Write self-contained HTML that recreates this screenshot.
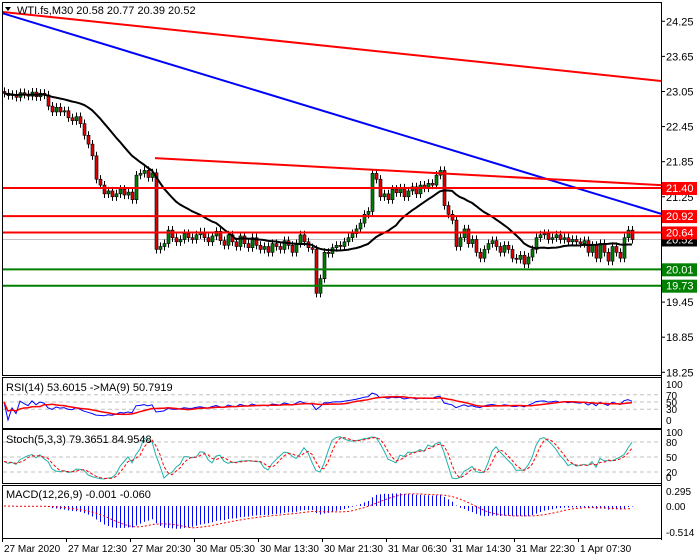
<!DOCTYPE html>
<html><head><meta charset="utf-8">
<style>
html,body{margin:0;padding:0;background:#fff;}
svg{display:block;font-family:"Liberation Sans",sans-serif;}
</style></head>
<body>
<svg id="chart" width="700" height="560" viewBox="0 0 700 560" xmlns="http://www.w3.org/2000/svg"></svg>
<script>
// ---- data ----
const closes = [
23.02,22.98,23.00,22.95,23.03,23.00,22.97,23.04,22.96,23.02,22.99,22.80,22.70,22.78,22.70,22.72,
22.60,22.55,22.62,22.50,22.30,22.15,21.95,21.55,21.45,21.30,21.35,21.25,21.30,21.38,21.28,21.33,
21.20,21.62,21.65,21.70,21.58,21.66,20.35,20.40,20.45,20.68,20.55,20.48,20.52,20.62,20.55,20.52,
20.60,20.65,20.55,20.48,20.58,20.66,20.50,20.42,20.60,20.48,20.40,20.58,20.45,20.38,20.55,20.42,
20.35,20.40,20.30,20.45,20.40,20.35,20.50,20.42,20.30,20.45,20.60,20.48,20.38,20.35,19.60,19.85,
20.30,20.28,20.38,20.42,20.40,20.48,20.55,20.62,20.70,20.80,20.95,21.00,21.65,21.55,21.25,21.30,
21.20,21.38,21.32,21.40,21.25,21.35,21.42,21.30,21.45,21.40,21.48,21.45,21.62,21.70,21.10,20.95,
20.85,20.40,20.55,20.70,20.45,20.52,20.30,20.20,20.35,20.45,20.50,20.40,20.30,20.42,20.35,20.20,
20.18,20.25,20.10,20.22,20.35,20.55,20.60,20.62,20.52,20.55,20.60,20.52,20.55,20.48,20.52,20.48,
20.45,20.50,20.30,20.42,20.20,20.45,20.30,20.15,20.40,20.30,20.20,20.55,20.68,20.52
];
const firstOpen = 23.05;
const priceTicks = [24.25,23.65,23.05,22.45,21.85,21.25,20.65,20.05,19.45,18.85,18.25];
const hLevels = [21.40,20.92,20.64];
const supportLevels = [20.01,19.73];
const lastPrice = 20.52;
const trendTop = [24.41,23.23];
const trendBlue = [24.39,20.96];
const trendMid = [21.91,21.45];
const dateLabels = ["27 Mar 2020","27 Mar 12:30","27 Mar 20:30","30 Mar 05:30","30 Mar 13:30","30 Mar 21:30","31 Mar 06:30","31 Mar 14:30","31 Mar 22:30","1 Apr 07:30"];
const dateBars = [0,16,32,48,64,80,96,112,128,144];

// ---- scales ----
const svg = document.getElementById('chart');
const NS = 'http://www.w3.org/2000/svg';
const R = 661;
function xb(i){return 4+4*i;}
function ym(p){return 188+(21.4-p)*58.5;}
function yr(v){return 420-v*0.36;}
function ys(v){return 482-v*0.5;}
function yd(v){return Math.max(486,Math.min(537,506-v*50.7));}
function mk(tag,attrs,parent){const e=document.createElementNS(NS,tag);for(const k in attrs)e.setAttribute(k,attrs[k]);(parent||svg).appendChild(e);return e;}
function txt(s,x,y,attrs,parent){const e=mk('text',Object.assign({x:x,y:y,'font-size':11,fill:'#000'},attrs||{}),parent);e.textContent=s;return e;}

// panels
const panels=[[2,2,375,'main-panel'],[2,377,428,'rsi-panel'],[2,429,483,'stoch-panel'],[2,485,538,'macd-panel']];
panels.forEach(p=>{
  const r=mk('rect',{x:p[0]+0.5,y:p[1]+0.5,width:R-p[0],height:p[2]-p[1],fill:'#fff',stroke:'#000','stroke-width':1});
  
  
});
const axisLine=mk('line',{x1:R+0.5,y1:2,x2:R+0.5,y2:540,stroke:'#000'});



const defs=mk('defs',{});
const cp=mk('clipPath',{id:'mclip'},defs);
mk('rect',{x:3,y:3,width:R-3,height:372},cp);
const gMain=mk('g',{'clip-path':'url(#mclip)'});



const cur=mk('line',{x1:2,x2:R,y1:ym(lastPrice),y2:ym(lastPrice),stroke:'#c0c0c0'},gMain);



// candles
const opens=closes.map((c,i)=>i===0?firstOpen:closes[i-1]);
closes.forEach((c,i)=>{
  const o=opens[i];const x=xb(i);
  const hi=Math.max(o,c)+0.07, lo=Math.min(o,c)-0.07;
  const w=mk('line',{x1:x+0.5,x2:x+0.5,y1:ym(hi),y2:ym(lo),stroke:'#000'},gMain);
  
  
  const top=ym(Math.max(o,c)), bot=ym(Math.min(o,c));
  const b=mk('rect',{x:x-1,y:top,width:3,height:Math.max(1,bot-top),fill:c>=o?'#008000':'#e00000',stroke:'#000','stroke-width':0.6},gMain);
  
  
});

function sma(arr,n){return arr.map((v,i)=>{const s=arr.slice(Math.max(0,i-n+1),i+1);return s.reduce((a,b)=>a+b,0)/s.length;});}
const ma=sma(closes,21);
const maPath=mk('polyline',{points:ma.map((v,i)=>xb(i)+','+ym(v).toFixed(1)).join(' '),fill:'none',stroke:'#000','stroke-width':2},gMain);



function tline(vals,x1,color,name){
  const l=mk('line',{x1:x1,x2:R,y1:ym(vals[0]),y2:ym(vals[1]),stroke:color,'stroke-width':2},gMain);
  
  
}
tline(trendTop,2,'#ff0000','upper-trendline');
tline(trendBlue,2,'#0000ff','blue-trendline');
tline(trendMid,155,'#ff0000','middle-trendline');
hLevels.forEach(p=>{
  const l=mk('line',{x1:2,x2:R,y1:ym(p),y2:ym(p),stroke:'#ff0000','stroke-width':2},gMain);
  
  
});
supportLevels.forEach(p=>{
  const l=mk('line',{x1:2,x2:R,y1:ym(p),y2:ym(p),stroke:'#008000','stroke-width':2},gMain);
  
  
});

priceTicks.forEach(p=>{
  const y=ym(p);
  const t=mk('line',{x1:R,x2:R+4,y1:y,y2:y,stroke:'#000'});
  
  
  const l=txt(p.toFixed(2),666,y+4);
  
  
});
function box(p,bg,name){
  const y=ym(p);
  const r=mk('rect',{x:662,y:y-6,width:35,height:13,fill:bg});
  
  
  const t=txt(p.toFixed(2),666,y+4,{fill:'#fff'});
  
  
}
box(lastPrice,'#000','current-price');
hLevels.forEach(p=>box(p,'#ff0000','resistance'));
supportLevels.forEach(p=>box(p,'#008000','support'));

const tri=mk('path',{d:'M5 7 L11 7 L8 11 Z',fill:'#000'});


const hd=txt('WTI.fs,M30  20.58 20.77 20.39 20.52',17,14,{'xml:space':'preserve'});



// ---- RSI ----
function rsiCalc(c,n){const out=[];let ag=0,al=0;for(let i=0;i<c.length;i++){if(i===0){out.push(50);continue;}const d=c[i]-c[i-1];const g=Math.max(d,0),l=Math.max(-d,0);if(i<=n){ag=(ag*(i-1)+g)/i;al=(al*(i-1)+l)/i;}else{ag=(ag*(n-1)+g)/n;al=(al*(n-1)+l)/n;}out.push(al===0?100:100-100/(1+ag/al));}return out;}
const rsi=rsiCalc(closes,14);
const rsiMa=sma(rsi,9);
[70,50,30].forEach(v=>{
  const l=mk('line',{x1:3,x2:R,y1:yr(v),y2:yr(v),stroke:'#c0c0c0','stroke-dasharray':'4,3'});
  
  
});
const rl=mk('polyline',{points:rsi.map((v,i)=>xb(i)+','+yr(v).toFixed(1)).join(' '),fill:'none',stroke:'#0000ff'});


const rml=mk('polyline',{points:rsiMa.map((v,i)=>xb(i)+','+yr(v).toFixed(1)).join(' '),fill:'none',stroke:'#ff0000','stroke-width':1.5});


const rt=txt('RSI(14) 53.6015  ->MA(9) 50.7919',6,391,{'xml:space':'preserve'});


[[100,'100'],[70,'70'],[50,'50'],[30,'30'],[0,'0']].forEach(a=>{
  const t=txt(a[1],666,yr(a[0])+4,{'font-size':10});
  
  
});

// ---- Stochastic ----
const highs=closes.map((c,i)=>Math.max(c,opens[i])+0.07);
const lows=closes.map((c,i)=>Math.min(c,opens[i])-0.07);
const rawK=closes.map((c,i)=>{const s=Math.max(0,i-4);let hh=-1e9,ll=1e9;for(let j=s;j<=i;j++){hh=Math.max(hh,highs[j]);ll=Math.min(ll,lows[j]);}return hh===ll?50:(c-ll)/(hh-ll)*100;});
const kLine=sma(rawK,3);
const dLine=sma(kLine,3);
[80,50,20].forEach(v=>{
  const l=mk('line',{x1:3,x2:R,y1:ys(v),y2:ys(v),stroke:'#c0c0c0','stroke-dasharray':'4,3'});
  
  
});
const kl=mk('polyline',{points:kLine.map((v,i)=>xb(i)+','+ys(v).toFixed(1)).join(' '),fill:'none',stroke:'#20b2aa'});


const dl=mk('polyline',{points:dLine.map((v,i)=>xb(i)+','+ys(v).toFixed(1)).join(' '),fill:'none',stroke:'#ff0000','stroke-dasharray':'3,2'});


const st=txt('Stoch(5,3,3) 79.3651 84.9548',6,443);


[[100,'100'],[80,'80'],[50,'50'],[20,'20'],[0,'0']].forEach(a=>{
  const t=txt(a[1],666,Math.min(481,ys(a[0])+4),{'font-size':10});
  
  
});

// ---- MACD ----
function ema(arr,n){const k=2/(n+1);const o=[];arr.forEach((v,i)=>o.push(i===0?v:v*k+o[i-1]*(1-k)));return o;}
const e12=ema(closes,12), e26=ema(closes,26);
const macd=closes.map((c,i)=>e12[i]-e26[i]);
const signal=sma(macd,9);
macd.forEach((v,i)=>{
  const l=mk('line',{x1:xb(i)+0.5,x2:xb(i)+0.5,y1:yd(0),y2:yd(v),stroke:'#0000ff'});
  
  
});
const sl=mk('polyline',{points:signal.map((v,i)=>xb(i)+','+yd(v).toFixed(1)).join(' '),fill:'none',stroke:'#ff0000','stroke-dasharray':'2,2'});


const mt=txt('MACD(12,26,9) -0.001 -0.060',6,498);


[[0.295,'0.295'],[0,'0.00'],[-0.514,'-0.514']].forEach(a=>{
  const t=txt(a[1],666,yd(a[0])+4,{'font-size':10});
  
  
});

// ---- date axis ----
dateBars.forEach((b,k)=>{
  const x=xb(b)-2;
  const t=mk('line',{x1:x+0.5,x2:x+0.5,y1:538,y2:542,stroke:'#000'});
  
  
  const l=txt(dateLabels[k],x+2,552,{'font-size':10});
  
  
});
</script>
</body></html>
